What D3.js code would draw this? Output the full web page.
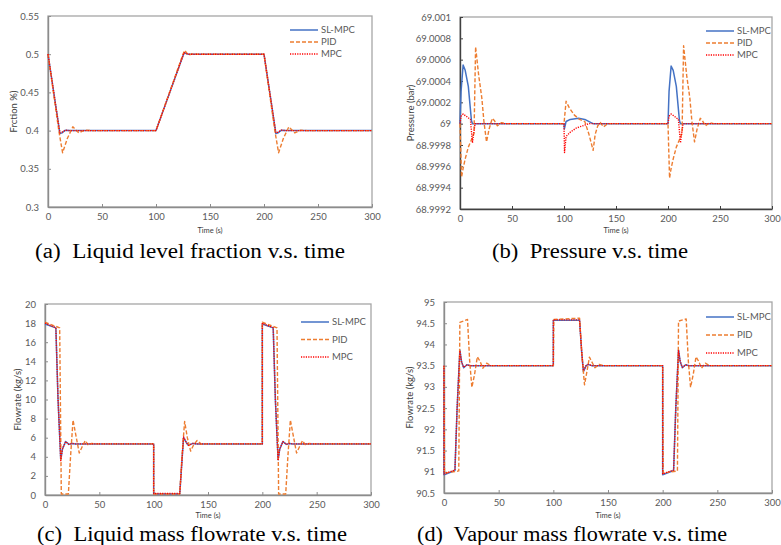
<!DOCTYPE html>
<html>
<head>
<meta charset="utf-8">
<script src="https://cdn.jsdelivr.net/npm/d3@7"></script>
<style>
  body { margin: 0; background: #fff; }
  svg { display: block; }
  .tick text { font-family: Lato, "Open Sans", sans-serif; fill: #595959; }
</style>
</head>
<body>
<svg id="chart" width="781" height="545"></svg>
<script>
// time axis shared by all four panels
const timeTicks = [0, 50, 100, 150, 200, 250, 300];
const seriesNames = ['SL-MPC', 'PID', 'MPC'];

// (a) liquid level fraction, [t, value]
const fracTicks = [0.3, 0.35, 0.4, 0.45, 0.5, 0.55];
const fracSL = [[0,0.5],[11,0.396],[13,0.397],[16,0.4005],[20,0.4],[100,0.4],[126,0.502],[130,0.5],[200,0.5],[211,0.396],[213,0.397],[216,0.4005],[220,0.4],[300,0.4]];
const fracPID = [[0,0.5],[10,0.4],[13.5,0.371],[18,0.39],[23,0.405],[28.5,0.397],[34,0.4005],[40,0.4],[100,0.4],[125,0.5],[126.5,0.505],[130,0.499],[134,0.5005],[138,0.5],[200,0.5],[210,0.4],[213.5,0.371],[218,0.39],[223,0.405],[228.5,0.397],[234,0.4005],[240,0.4],[300,0.4]];
const fracMPC = [[0,0.5],[11,0.397],[13,0.398],[16,0.4005],[20,0.4],[100,0.4],[126,0.502],[130,0.5],[200,0.5],[211,0.397],[213,0.398],[216,0.4005],[220,0.4],[300,0.4]];

// (b) pressure
const presTicks = [68.9992, 68.9994, 68.9996, 68.9998, 69, 69.0002, 69.0004, 69.0006, 69.0008, 69.001];
const presSL = [[0,69],[1,69.0003],[3,69.00055],[5,69.0005],[8,69.00035],[11,69.00003],[12,69],[100,69],[100.3,68.99995],[102,69.00002],[106,69.00004],[114,69.00005],[120,69.00004],[126,69.00001],[128,69],[200,69],[201,69.0003],[203,69.00054],[205,69.0005],[208,69.00035],[211,69.00003],[212,69],[300,69]];
const presPID = [[0,69],[1.5,68.9995],[3,68.99958],[5,68.99967],[8,68.99978],[11,68.99985],[13.5,68.99991],[15,69.00072],[18,69.00045],[21,69.00024],[23,69.00002],[25.5,68.99983],[28,68.99995],[31,69.00005],[33,69.00003],[36,68.99998],[40,69.00001],[44,69],[100,69],[102,69.00021],[105,69.00015],[110,69.00008],[115,69.00004],[120,69.00002],[124,68.9999],[128,68.99975],[130,68.9999],[132.5,68.99998],[135,69.00001],[138,68.99997],[142,69],[200,69],[201.5,68.99949],[203,68.99958],[205,68.99967],[208,68.99978],[211,68.99985],[213.5,68.99991],[215,69.00073],[218,69.00045],[221,69.00024],[223,69.00002],[225.5,68.99983],[228,68.99995],[231,69.00005],[233,69.00003],[236,68.99998],[240,69.00001],[244,69],[300,69]];
const presMPC = [[0,69],[1,69.00007],[3,69.00009],[6,69.00007],[10,69.00004],[12,68.99982],[13,68.9999],[14.5,69],[100,69],[100.5,68.99973],[102,68.99988],[106,68.99992],[112,68.99996],[118,68.99998],[124,69],[200,69],[201,69.00007],[203,69.00009],[206,69.00007],[210,69.00004],[212,68.99982],[213,68.9999],[214.5,69],[300,69]];

// (c) liquid mass flowrate
const liqTicks = [0, 2, 4, 6, 8, 10, 12, 14, 16, 18, 20];
const liqSL = [[0,17.9],[10,17.5],[12,10],[14.5,3.7],[16,4.8],[19,5.6],[22,5.3],[25,5.4],[28,5.35],[100,5.35],[100,0.1],[124,0.1],[127.5,6.0],[130,5.5],[132,5.2],[136,5.4],[140,5.35],[200,5.35],[200,17.9],[210,17.5],[212,10],[214.5,3.7],[216,4.8],[219,5.6],[222,5.3],[225,5.4],[228,5.35],[300,5.35]];
const liqPID = [[0,18.1],[13.5,17.5],[15,0.1],[21.5,0.1],[23.5,4],[25.8,7.85],[28,6.5],[31.5,4.4],[34,5],[37,5.7],[40,5.2],[43,5.4],[46,5.35],[100,5.35],[100,0.1],[124,0.1],[126,4],[128.5,7.7],[131,6],[134,4.6],[137,5.3],[140,5.7],[144,5.3],[148,5.35],[200,5.35],[200,18.1],[213.5,17.5],[215,0.1],[221.5,0.1],[223.5,4],[225.8,7.85],[228,6.5],[231.5,4.4],[234,5],[237,5.7],[240,5.2],[243,5.4],[246,5.35],[300,5.35]];
const liqMPC = [[0,18],[10,17.5],[12,10],[14.5,3.6],[16,4.8],[19,5.6],[22,5.3],[25,5.4],[28,5.35],[100,5.35],[100,0.15],[124,0.15],[127.5,6.1],[130,5.5],[132,5.2],[136,5.4],[140,5.35],[200,5.35],[200,18],[210,17.5],[212,10],[214.5,3.6],[216,4.8],[219,5.6],[222,5.3],[225,5.4],[228,5.35],[300,5.35]];

// (d) vapour mass flowrate
const vapTicks = [90.5, 91, 91.5, 92, 92.5, 93, 93.5, 94, 94.5, 95];
const vapSL = [[0,93.5],[0,90.93],[10,91.03],[12,92.5],[14.5,93.87],[16,93.6],[18,93.45],[21,93.52],[24,93.5],[100,93.5],[100,94.57],[124,94.57],[126,93.8],[127.5,93.36],[130,93.5],[132,93.53],[135,93.5],[200,93.5],[200,90.93],[210,91.03],[212,92.5],[214.5,93.87],[216,93.6],[218,93.45],[221,93.52],[224,93.5],[300,93.5]];
const vapPID = [[0,93.5],[0.5,90.97],[13.5,91.02],[14.5,94.52],[21.5,94.59],[23.5,93.6],[25.5,92.99],[28,93.3],[30.5,93.71],[33,93.6],[35.5,93.44],[39,93.56],[43,93.5],[100,93.5],[100.5,94.59],[124,94.62],[126,93.8],[128.5,93.05],[131,93.4],[133,93.7],[136,93.55],[138,93.45],[142,93.53],[146,93.5],[200,93.5],[200.5,90.97],[213.5,91.02],[214.5,94.55],[221.5,94.6],[223.5,93.6],[225.5,92.99],[228,93.3],[230.5,93.71],[233,93.6],[235.5,93.44],[239,93.56],[243,93.5],[300,93.5]];
const vapMPC = [[0,93.5],[0,90.95],[10,91.04],[12,92.5],[14.5,93.85],[16,93.6],[18,93.46],[21,93.52],[24,93.5],[100,93.5],[100,94.58],[124,94.58],[126,93.8],[127.5,93.38],[130,93.5],[132,93.53],[135,93.5],[200,93.5],[200,90.95],[210,91.04],[212,92.5],[214.5,93.85],[216,93.6],[218,93.46],[221,93.52],[224,93.5],[300,93.5]];

const styles = [
  { color: '#4472c4', dash: null, width: 1.5 },
  { color: '#ed7d31', dash: '4,2', width: 1.4 },
  { color: '#ff0000', dash: '1.2,1.2', width: 1.4 }
];

const panels = [
  { box: [48, 16, 372, 207], ticks: fracTicks, series: [fracSL, fracPID, fracMPC], ylabel: 'Frction %)', ylabX: 14,
    legend: [290, 30, 12], xtitleY: 230, caption: ['(a)', 'Liquid level fraction v.s. time'], capX: 35, capW: 310, capY: 258, axisCol: '#8c8c8c' },
  { box: [460, 17, 772, 209], ticks: presTicks, series: [presSL, presPID, presMPC], ylabel: 'Pressure (bar)', ylabX: 411,
    legend: [706, 31, 12], xtitleY: 230, caption: ['(b)', 'Pressure v.s. time'], capX: 492, capW: 196, capY: 258, axisCol: '#404040' },
  { box: [45, 304, 371, 495], ticks: liqTicks, series: [liqSL, liqPID, liqMPC], ylabel: 'Flowrate (kg/s)', ylabX: 18,
    legend: [301, 322, 17.5], xtitleY: 515, caption: ['(c)', 'Liquid mass flowrate v.s. time'], capX: 37, capW: 310, capY: 541, axisCol: '#8c8c8c' },
  { box: [444, 302, 772, 493], ticks: vapTicks, series: [vapSL, vapPID, vapMPC], ylabel: 'Flowrate (kg/s)', ylabX: 410,
    legend: [706, 317, 18], xtitleY: 515, caption: ['(d)', 'Vapour mass flowrate v.s. time'], capX: 417, capW: 310, capY: 541, axisCol: '#8c8c8c' }
];

const svg = d3.select('#chart');

panels.forEach((p) => {
  const [x0, y0, x1, y1] = p.box;
  const x = d3.scaleLinear().domain([0, 300]).range([x0, x1]);
  const y = d3.scaleLinear().domain([p.ticks[0], p.ticks[p.ticks.length - 1]]).range([y1, y0]);
  const g = svg.append('g');

  // plot area border
  g.append('rect')
    .attr('x', x0).attr('y', y0)
    .attr('width', x1 - x0).attr('height', y1 - y0)
    .attr('fill', 'none').attr('stroke', '#a6a6a6').attr('stroke-width', 1.3);

  const xAxis = d3.axisBottom(x).tickValues(timeTicks).tickFormat(String)
    .tickSizeInner(-3).tickSizeOuter(0).tickPadding(6);
  const yAxis = d3.axisLeft(y).tickValues(p.ticks).tickFormat(String)
    .tickSizeInner(-3).tickSizeOuter(0).tickPadding(9);

  const gx = g.append('g').attr('transform', 'translate(0,' + y1 + ')').call(xAxis);
  const gy = g.append('g').attr('transform', 'translate(' + x0 + ',0)').call(yAxis);
  [gx, gy].forEach((a) => {
    a.select('.domain').attr('stroke', p.axisCol).attr('stroke-width', 1.4);
    a.selectAll('.tick line').attr('stroke', p.axisCol);
    a.selectAll('.tick text').attr('font-size', 9.5);
  });

  const line = d3.line().x((d) => x(d[0])).y((d) => y(d[1]));
  p.series.forEach((s, i) => {
    g.append('path')
      .datum(s)
      .attr('d', line)
      .attr('fill', 'none')
      .attr('stroke', styles[i].color)
      .attr('stroke-width', styles[i].width)
      .attr('stroke-dasharray', styles[i].dash)
      .attr('stroke-linejoin', 'round');
  });

  // legend
  const [lx, ly, lstep] = p.legend;
  seriesNames.forEach((name, i) => {
    g.append('line')
      .attr('x1', lx).attr('x2', lx + 28)
      .attr('y1', ly + i * lstep).attr('y2', ly + i * lstep)
      .attr('stroke', styles[i].color)
      .attr('stroke-width', styles[i].width)
      .attr('stroke-dasharray', styles[i].dash);
    g.append('text')
      .attr('x', lx + 31).attr('y', ly + i * lstep)
      .attr('dy', '0.35em')
      .attr('font-family', 'Lato, sans-serif')
      .attr('font-size', 9.5)
      .attr('fill', '#595959')
      .text(name);
  });

  g.append('text')
    .attr('x', (x0 + x1) / 2).attr('y', p.xtitleY)
    .attr('dy', '0.35em')
    .attr('text-anchor', 'middle')
    .attr('font-family', 'Lato, sans-serif')
    .attr('font-size', 7.5)
    .attr('fill', '#404040')
    .text('Time (s)');

  g.append('text')
    .attr('transform', 'translate(' + p.ylabX + ',' + (y0 + y1) / 2 + ') rotate(-90)')
    .attr('text-anchor', 'middle')
    .attr('dy', '0.35em')
    .attr('font-family', 'Lato, sans-serif')
    .attr('font-size', 9.5)
    .attr('fill', '#404040')
    .text(p.ylabel);

  // caption, stretched to the width it has in the figure
  svg.append('text')
    .attr('x', p.capX).attr('y', p.capY)
    .attr('font-family', '"Liberation Serif", serif')
    .attr('font-size', 20.5)
    .attr('fill', '#000')
    .attr('textLength', p.capW)
    .attr('lengthAdjust', 'spacingAndGlyphs')
    .style('white-space', 'pre')
    .text(p.caption[0] + '  ' + p.caption[1]);
});
</script>
</body>
</html>
